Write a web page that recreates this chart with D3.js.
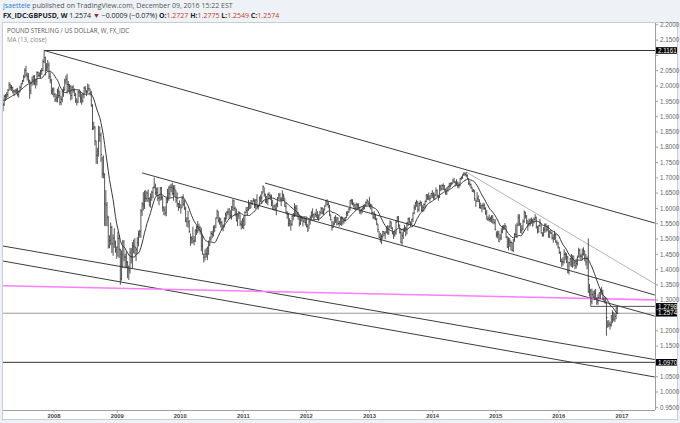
<!DOCTYPE html>
<html><head><meta charset="utf-8">
<script src="https://cdn.jsdelivr.net/npm/d3@7"></script>
<style>body{margin:0;background:#fff}svg{display:block}</style>
</head><body><svg id="c" width="680" height="423"></svg>
<script>
// ---------------- DATA ----------------
const firstWeek = "2006-12-18"; // Monday of first weekly bar, one bar per week
const highs = [
1.972,1.968,
1.966,1.958,1.985,1.982,1.974,1.971,1.966,1.972,1.970,1.948,1.946,1.971,1.974,1.980,1.990,2.013,2.008,2.003,1.998,1.987,1.990,1.992,1.994,1.985,2.001,2.009,2.020,2.036,2.058,2.066,2.044,2.042,2.021,2.015,2.031,2.035,2.036,2.024,2.048,2.047,2.045,2.053,2.059,2.087,2.116,2.096,2.075,2.085,2.077,2.045,2.024,1.995,1.995,
1.977,1.973,1.991,1.998,1.985,1.967,1.989,1.998,2.024,2.034,2.040,2.016,2.006,2.003,1.999,2.003,1.992,1.978,1.960,1.983,1.989,1.983,1.974,1.978,1.998,2.000,1.987,2.008,2.005,1.991,1.984,1.941,1.883,1.869,1.822,1.798,1.870,1.868,1.848,1.769,1.773,1.715,1.660,1.621,1.576,1.512,1.554,1.543,1.515,1.535,1.495,1.475,
1.524,1.514,1.468,1.463,1.497,1.496,1.452,1.461,1.428,1.414,1.471,1.471,1.490,1.498,1.503,1.472,1.506,1.527,1.530,1.598,1.620,1.653,1.658,1.660,1.656,1.662,1.636,1.649,1.658,1.670,1.701,1.681,1.668,1.669,1.644,1.670,1.670,1.640,1.607,1.606,1.634,1.664,1.672,1.677,1.680,1.684,1.676,1.676,1.659,1.652,1.618,1.626,
1.612,1.638,1.646,1.627,1.606,1.571,1.592,1.562,1.518,1.509,1.540,1.510,1.531,1.543,1.559,1.550,1.542,1.537,1.513,1.452,1.466,1.470,1.475,1.495,1.508,1.526,1.527,1.544,1.546,1.570,1.596,1.591,1.571,1.569,1.559,1.548,1.571,1.586,1.591,1.600,1.600,1.594,1.608,1.630,1.628,1.605,1.599,1.583,1.592,1.581,1.560,1.568,
1.574,1.590,1.605,1.603,1.628,1.620,1.627,1.626,1.634,1.630,1.631,1.646,1.613,1.639,1.645,1.657,1.675,1.669,1.648,1.641,1.649,1.654,1.646,1.645,1.628,1.611,1.614,1.619,1.637,1.650,1.651,1.637,1.659,1.648,1.634,1.620,1.591,1.586,1.568,1.560,1.577,1.585,1.617,1.610,1.611,1.589,1.579,1.576,1.575,1.571,1.570,1.569,
1.571,1.549,1.562,1.577,1.591,1.600,1.583,1.587,1.599,1.591,1.581,1.592,1.605,1.604,1.600,1.610,1.627,1.630,1.623,1.611,1.580,1.560,1.558,1.573,1.578,1.571,1.571,1.559,1.571,1.574,1.572,1.569,1.572,1.590,1.592,1.601,1.627,1.631,1.630,1.620,1.614,1.619,1.616,1.617,1.605,1.597,1.603,1.612,1.614,1.623,1.631,1.625,1.638,
1.616,1.612,1.589,1.591,1.582,1.569,1.549,1.526,1.520,1.515,1.527,1.526,1.524,1.541,1.545,1.543,1.561,1.557,1.538,1.526,1.531,1.560,1.575,1.575,1.547,1.534,1.522,1.536,1.546,1.540,1.556,1.570,1.571,1.557,1.566,1.587,1.612,1.621,1.628,1.623,1.619,1.626,1.622,1.610,1.616,1.625,1.646,1.646,1.652,1.644,1.650,1.660,
1.652,1.648,1.668,1.662,1.644,1.677,1.677,1.678,1.682,1.676,1.665,1.668,1.673,1.684,1.684,1.686,1.697,1.700,1.689,1.695,1.688,1.685,1.699,1.705,1.711,1.718,1.717,1.719,1.711,1.699,1.689,1.681,1.669,1.663,1.660,1.628,1.653,1.643,1.630,1.619,1.612,1.619,1.616,1.604,1.595,1.574,1.580,1.573,1.578,1.578,1.564,1.565,
1.525,1.527,1.527,1.516,1.535,1.544,1.546,1.552,1.544,1.510,1.506,1.503,1.495,1.490,1.500,1.519,1.547,1.553,1.581,1.581,1.553,1.545,1.564,1.593,1.589,1.578,1.560,1.567,1.567,1.570,1.566,1.570,1.581,1.573,1.542,1.546,1.566,1.551,1.522,1.539,1.551,1.551,1.544,1.546,1.528,1.530,1.523,1.515,1.526,1.518,1.496,1.491,
1.474,1.459,1.436,1.440,1.467,1.458,1.454,1.445,1.425,1.439,1.451,1.446,1.446,1.432,1.436,1.446,1.471,1.468,1.452,1.469,1.473,1.462,1.451,1.443,1.502,1.353,1.337,1.338,1.330,1.334,1.337,1.310,1.319,1.326,1.336,1.344,1.334,1.311,1.310,1.296,1.234,1.235,1.230,1.251,1.267,1.260,1.257,1.277,1.278
];
const lows = [
1.951,1.951,
1.939,1.922,1.940,1.954,1.951,1.940,1.931,1.940,1.933,1.917,1.917,1.935,1.951,1.958,1.964,1.985,1.986,1.984,1.976,1.967,1.976,1.973,1.966,1.962,1.978,1.990,2.005,2.014,2.025,2.030,2.018,2.010,1.958,1.973,2.001,2.004,2.002,1.992,2.002,2.029,2.028,2.026,2.036,2.048,2.075,2.035,2.048,2.050,2.023,2.009,1.973,1.970,1.963,
1.948,1.947,1.946,1.960,1.937,1.937,1.947,1.965,1.984,2.005,1.975,1.982,1.973,1.953,1.956,1.978,1.967,1.945,1.936,1.944,1.964,1.945,1.939,1.946,1.960,1.978,1.967,1.977,1.983,1.969,1.932,1.856,1.857,1.806,1.746,1.745,1.769,1.817,1.752,1.700,1.698,1.543,1.542,1.542,1.469,1.470,1.480,1.454,1.445,1.471,1.455,1.435,
1.442,1.438,1.350,1.364,1.405,1.427,1.404,1.408,1.372,1.366,1.387,1.420,1.404,1.453,1.449,1.428,1.450,1.476,1.504,1.504,1.575,1.593,1.598,1.621,1.622,1.620,1.606,1.602,1.625,1.633,1.665,1.643,1.640,1.624,1.610,1.625,1.627,1.590,1.578,1.576,1.574,1.617,1.625,1.636,1.653,1.643,1.625,1.641,1.618,1.604,1.592,1.601,
1.583,1.601,1.607,1.595,1.555,1.540,1.537,1.520,1.478,1.485,1.485,1.479,1.490,1.513,1.519,1.525,1.515,1.460,1.449,1.423,1.430,1.439,1.431,1.448,1.476,1.494,1.502,1.508,1.522,1.537,1.566,1.554,1.547,1.538,1.529,1.525,1.538,1.556,1.564,1.578,1.567,1.567,1.563,1.592,1.592,1.574,1.557,1.542,1.566,1.543,1.531,1.535,
1.532,1.545,1.585,1.575,1.592,1.597,1.601,1.612,1.620,1.601,1.598,1.602,1.596,1.607,1.620,1.614,1.651,1.638,1.618,1.615,1.610,1.631,1.627,1.607,1.595,1.593,1.593,1.578,1.604,1.629,1.626,1.607,1.623,1.624,1.605,1.584,1.566,1.541,1.541,1.527,1.543,1.561,1.572,1.574,1.574,1.563,1.541,1.546,1.557,1.541,1.553,1.544,
1.538,1.523,1.532,1.547,1.563,1.570,1.561,1.572,1.569,1.565,1.559,1.575,1.581,1.581,1.578,1.592,1.606,1.610,1.600,1.574,1.560,1.527,1.536,1.545,1.552,1.544,1.546,1.540,1.545,1.543,1.547,1.551,1.557,1.568,1.575,1.585,1.593,1.613,1.610,1.603,1.595,1.597,1.598,1.598,1.582,1.580,1.584,1.595,1.597,1.605,1.612,1.609,1.603,
1.597,1.580,1.565,1.564,1.561,1.545,1.522,1.503,1.489,1.483,1.501,1.509,1.499,1.519,1.515,1.513,1.535,1.532,1.515,1.500,1.507,1.514,1.555,1.537,1.518,1.486,1.481,1.500,1.523,1.509,1.515,1.542,1.550,1.541,1.546,1.555,1.581,1.595,1.605,1.587,1.590,1.607,1.590,1.588,1.590,1.600,1.620,1.627,1.628,1.623,1.633,1.634,
1.629,1.628,1.642,1.637,1.625,1.634,1.656,1.659,1.660,1.656,1.644,1.644,1.655,1.664,1.669,1.675,1.681,1.684,1.673,1.676,1.667,1.665,1.672,1.693,1.696,1.706,1.706,1.702,1.695,1.677,1.672,1.664,1.654,1.652,1.625,1.605,1.621,1.621,1.600,1.598,1.587,1.596,1.595,1.579,1.564,1.559,1.557,1.556,1.553,1.550,1.548,1.528,
1.505,1.502,1.490,1.495,1.497,1.519,1.529,1.530,1.503,1.471,1.463,1.474,1.462,1.460,1.457,1.491,1.507,1.503,1.542,1.543,1.519,1.517,1.528,1.553,1.567,1.549,1.527,1.541,1.543,1.550,1.540,1.550,1.560,1.534,1.518,1.521,1.540,1.518,1.507,1.508,1.520,1.522,1.525,1.505,1.503,1.517,1.498,1.488,1.497,1.488,1.479,1.469,
1.451,1.425,1.409,1.413,1.420,1.432,1.421,1.388,1.384,1.411,1.409,1.406,1.413,1.401,1.404,1.413,1.441,1.436,1.432,1.431,1.446,1.427,1.413,1.401,1.323,1.312,1.280,1.287,1.307,1.300,1.303,1.285,1.285,1.305,1.303,1.318,1.300,1.294,1.288,1.184,1.210,1.212,1.204,1.214,1.225,1.231,1.229,1.238,1.255
];
const closes = [
1.960,1.959,
1.947,1.944,1.982,1.961,1.969,1.948,1.956,1.967,1.935,1.927,1.939,1.966,1.968,1.972,1.985,2.004,1.996,1.995,1.984,1.983,1.983,1.984,1.973,1.983,1.996,2.008,2.016,2.030,2.051,2.036,2.030,2.017,1.986,2.011,2.020,2.031,2.010,2.016,2.044,2.035,2.035,2.048,2.051,2.080,2.093,2.050,2.062,2.068,2.031,2.019,1.984,1.990,1.973,
1.955,1.961,1.983,1.969,1.946,1.956,1.983,1.987,2.016,2.022,2.005,2.005,1.999,1.969,1.996,1.987,1.969,1.951,1.947,1.981,1.980,1.961,1.951,1.973,1.994,1.991,1.981,1.992,1.991,1.978,1.935,1.861,1.865,1.820,1.774,1.787,1.842,1.839,1.776,1.715,1.710,1.615,1.611,1.571,1.477,1.495,1.538,1.484,1.503,1.487,1.463,1.474,
1.502,1.467,1.370,1.449,1.490,1.441,1.441,1.424,1.405,1.398,1.455,1.439,1.480,1.475,1.473,1.466,1.489,1.515,1.524,1.591,1.615,1.611,1.634,1.632,1.650,1.632,1.627,1.637,1.652,1.669,1.669,1.652,1.653,1.633,1.636,1.666,1.636,1.602,1.595,1.585,1.632,1.631,1.648,1.669,1.668,1.649,1.664,1.660,1.627,1.614,1.603,1.613,
1.601,1.634,1.614,1.600,1.558,1.566,1.556,1.524,1.504,1.501,1.493,1.494,1.530,1.527,1.540,1.538,1.525,1.477,1.450,1.441,1.451,1.451,1.471,1.481,1.500,1.518,1.515,1.529,1.537,1.569,1.591,1.561,1.553,1.553,1.543,1.540,1.566,1.578,1.587,1.588,1.598,1.577,1.604,1.625,1.600,1.581,1.561,1.579,1.583,1.549,1.546,1.561,
1.545,1.586,1.593,1.603,1.611,1.601,1.624,1.614,1.626,1.608,1.627,1.606,1.609,1.633,1.635,1.650,1.671,1.647,1.621,1.623,1.646,1.643,1.639,1.618,1.596,1.608,1.598,1.614,1.631,1.643,1.630,1.631,1.643,1.637,1.606,1.587,1.580,1.550,1.560,1.548,1.575,1.582,1.603,1.600,1.581,1.579,1.549,1.574,1.567,1.558,1.568,1.554,
1.541,1.529,1.556,1.571,1.578,1.579,1.569,1.580,1.576,1.570,1.572,1.586,1.600,1.585,1.588,1.608,1.624,1.613,1.614,1.581,1.563,1.537,1.549,1.569,1.559,1.569,1.551,1.551,1.569,1.571,1.556,1.565,1.570,1.584,1.589,1.598,1.625,1.625,1.615,1.611,1.601,1.613,1.612,1.603,1.589,1.596,1.601,1.602,1.612,1.619,1.625,1.615,1.607,
1.612,1.586,1.571,1.581,1.564,1.550,1.531,1.505,1.500,1.508,1.524,1.518,1.523,1.537,1.520,1.542,1.555,1.536,1.519,1.514,1.520,1.555,1.569,1.546,1.521,1.489,1.510,1.528,1.537,1.534,1.552,1.565,1.556,1.550,1.565,1.585,1.602,1.619,1.622,1.596,1.616,1.619,1.593,1.603,1.613,1.624,1.645,1.637,1.631,1.632,1.649,1.643,
1.650,1.643,1.658,1.643,1.635,1.673,1.664,1.675,1.674,1.662,1.650,1.667,1.672,1.675,1.682,1.681,1.689,1.686,1.683,1.683,1.674,1.677,1.697,1.701,1.711,1.715,1.711,1.709,1.698,1.681,1.678,1.669,1.656,1.660,1.631,1.624,1.631,1.622,1.603,1.608,1.610,1.609,1.600,1.586,1.564,1.566,1.564,1.566,1.571,1.563,1.554,1.532,
1.514,1.517,1.491,1.503,1.523,1.539,1.540,1.543,1.505,1.473,1.496,1.489,1.488,1.463,1.497,1.516,1.515,1.545,1.570,1.549,1.528,1.533,1.558,1.588,1.575,1.560,1.551,1.559,1.551,1.561,1.546,1.564,1.570,1.542,1.523,1.544,1.554,1.520,1.514,1.530,1.547,1.530,1.538,1.506,1.523,1.519,1.503,1.503,1.515,1.490,1.487,1.474,
1.456,1.426,1.425,1.425,1.450,1.450,1.441,1.392,1.423,1.436,1.446,1.412,1.422,1.412,1.420,1.440,1.462,1.444,1.444,1.450,1.462,1.436,1.425,1.436,1.368,1.330,1.295,1.318,1.310,1.322,1.304,1.294,1.308,1.324,1.333,1.330,1.303,1.296,1.298,1.243,1.219,1.222,1.219,1.249,1.259,1.238,1.247,1.275,1.257
];
const maPeriod = 13;
const yearTickLabels = ["2008","2009","2010","2011","2012","2013","2014","2015","2016","2017"];
const priceTicks = [2.20,2.15,2.10,2.05,2.00,1.95,1.90,1.85,1.80,1.75,1.70,1.65,1.60,1.55,1.50,1.45,1.40,1.35,1.30,1.25,1.20,1.15,1.10,1.05,1.00,0.95];
// horizontal levels: [start date or null (full width), price, colour, boxed label]
const levelStart = [null, "2007-11-05", "2016-07-04", null];
const levelPrice = [1.2574, 2.1161, 1.2798, 1.0970];
const levelColor = ["#9a9a9a", "#333333", "#555555", "#333333"];
// trend lines: two anchor points [date, price]
const trendA = [["2007-11-05",2.1161],["2014-07-14",1.719],["2009-05-25",1.716],["2011-05-06",1.683],["2007-03-12",1.477],["2007-03-12",1.428],["2007-03-12",1.347]];
const trendB = [["2017-07-10",1.552],["2017-07-10",1.3536],["2017-07-10",1.248],["2017-07-10",1.317],["2017-07-10",1.106],["2017-07-10",1.049],["2017-07-10",1.301]];
const trendColor = ["#3c3c3c","#b4b4b4","#3c3c3c","#3c3c3c","#3c3c3c","#3c3c3c","#ff7dff"];
const trendWidth = [1,1,1,1,1,1,1.6];

// ---------------- CHART ----------------
const svg = d3.select("#c");
const parse = d3.utcParse("%Y-%m-%d");
const W = 680, H = 423;
const plot = {l:3, r:655, t:23, b:410};

svg.append("rect").attr("width",W).attr("height",H).attr("fill","#eef2f6");
svg.append("rect").attr("x",2.5).attr("y",22.5).attr("width",675).attr("height",397).attr("fill","#fff").attr("stroke","#c9ced4");

const x = d3.scaleUtc().domain([parse("2008-01-01"), parse("2017-01-01")]).range([54, 622]);
const y = d3.scaleLinear().domain([1.0, 2.0]).range([392, 86]);

const start = parse(firstWeek);
const bars = closes.map((c,i)=>({d:d3.utcDay.offset(start, 7*i), h:highs[i], l:lows[i], c}));

svg.append("clipPath").attr("id","clip").append("rect")
  .attr("x",plot.l).attr("y",plot.t).attr("width",plot.r-plot.l).attr("height",plot.b-plot.t);
const g = svg.append("g").attr("clip-path","url(#clip)");

// levels
levelPrice.forEach((p,i)=>{
  const x0 = levelStart[i] ? x(parse(levelStart[i])) : plot.l;
  g.append("line").attr("x1",x0).attr("x2",plot.r).attr("y1",y(p)).attr("y2",y(p))
   .attr("stroke",levelColor[i]).attr("stroke-width",1);
});
// trend lines
trendA.forEach((a,i)=>{
  const b = trendB[i];
  g.append("line").attr("x1",x(parse(a[0]))).attr("y1",y(a[1]))
   .attr("x2",x(parse(b[0]))).attr("y2",y(b[1]))
   .attr("stroke",trendColor[i]).attr("stroke-width",trendWidth[i]);
});

// bars (HLC)
const bg = g.append("g").attr("stroke","#2b2b2b").attr("stroke-width",0.8);
bars.forEach(b=>{
  const xx = x(b.d);
  bg.append("line").attr("x1",xx).attr("x2",xx).attr("y1",y(b.h)).attr("y2",y(b.l));
  bg.append("line").attr("x1",xx).attr("x2",xx+1).attr("y1",y(b.c)).attr("y2",y(b.c));
});

// MA 13
const ma = bars.map((b,i)=> i < maPeriod-1 ? null : {d:b.d, v:d3.mean(closes.slice(i-maPeriod+1,i+1))}).filter(Boolean);
g.append("path").datum(ma).attr("fill","none").attr("stroke","#3a3a3a").attr("stroke-width",1)
  .attr("d", d3.line().x(d=>x(d.d)).y(d=>y(d.v)));

// axes lines
svg.append("line").attr("x1",plot.r+0.5).attr("x2",plot.r+0.5).attr("y1",plot.t).attr("y2",plot.b).attr("stroke","#9aa0a6");
svg.append("line").attr("x1",plot.l).attr("x2",plot.r).attr("y1",plot.b+0.5).attr("y2",plot.b+0.5).attr("stroke","#9aa0a6");

// price axis (labels hidden where a boxed level label sits on top, as in the source)
const fmt = d3.format(".4f");
priceTicks.forEach(p=>{
  svg.append("line").attr("x1",plot.r).attr("x2",plot.r+3).attr("y1",y(p)).attr("y2",y(p)).attr("stroke","#9aa0a6");
  const covered = levelPrice.some(lp => Math.abs(y(lp)-y(p)) < 5.5);
  if (!covered) svg.append("text").attr("x",plot.r+5).attr("y",y(p)+2.2).text(fmt(p))
    .attr("font-family","Liberation Sans, Arial, sans-serif").attr("font-size",6.3).attr("fill","#666");
});
// boxed labels
levelPrice.forEach(p=>{
  svg.append("rect").attr("x",plot.r+1).attr("y",y(p)-3.3).attr("width",21).attr("height",6.6).attr("fill","#000");
  svg.append("text").attr("x",plot.r+3).attr("y",y(p)+2.2).text(fmt(p))
    .attr("font-family","Liberation Sans, Arial, sans-serif").attr("font-size",6.3).attr("fill","#fff");
});

// year axis
yearTickLabels.forEach(t=>{
  const xx = x(parse(t+"-01-01"));
  svg.append("line").attr("x1",xx).attr("x2",xx).attr("y1",plot.b).attr("y2",plot.b+2.5).attr("stroke","#9aa0a6");
  svg.append("text").attr("x",xx).attr("y",plot.b+7.5).attr("text-anchor","middle").text(t)
    .attr("font-family","Liberation Sans, Arial, sans-serif").attr("font-size",5.8).attr("font-weight","bold").attr("fill","#444");
});

// header
const hf = "Open Sans, Liberation Sans, sans-serif";
const t1 = svg.append("text").attr("x",3).attr("y",8.3).attr("font-family",hf).attr("font-size",7).attr("fill","#555");
t1.append("tspan").attr("fill","#2f7bd2").text("jsaettele");
t1.append("tspan").text(" published on TradingView.com, December 09, 2016 15:22 EST");
const t2 = svg.append("text").attr("x",3).attr("y",17.5).attr("font-family",hf).attr("font-size",7).attr("fill","#222");
t2.append("tspan").attr("font-weight","bold").text("FX_IDC:GBPUSD, W");
t2.append("tspan").text("  1.2574 ");
t2.append("tspan").attr("fill","#b02020").text("▼");
t2.append("tspan").text(" −0.0009 (−0.07%) ");
[["O:","1.2727"],["H:","1.2775"],["L:","1.2549"],["C:","1.2574"]].forEach(([k,v])=>{
  t2.append("tspan").attr("font-weight","bold").text(k);
  t2.append("tspan").attr("fill","#c0392b").text(v+" ");
});
svg.append("text").attr("x",7).attr("y",32.5).attr("font-family",hf).attr("font-size",6.2).attr("fill","#555").text("POUND STERLING / US DOLLAR, W, FX_IDC");
svg.append("text").attr("x",7).attr("y",41.5).attr("font-family",hf).attr("font-size",6.2).attr("fill","#888").text("MA (13, close)");
</script></body></html>
